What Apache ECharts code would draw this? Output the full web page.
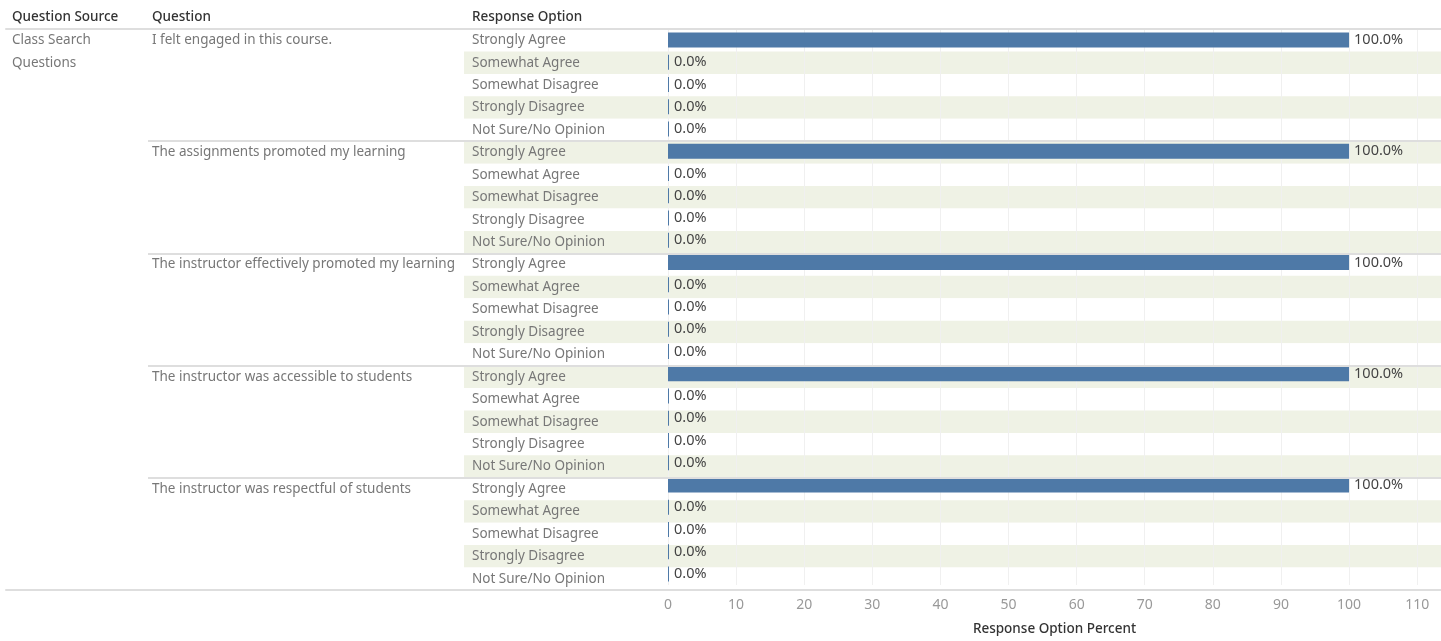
<!DOCTYPE html>
<html>
<head>
<meta charset="utf-8">
<script src="https://cdn.jsdelivr.net/npm/echarts@6/dist/echarts.min.js"></script>
<style>
  html, body { margin: 0; padding: 0; background: #fff; }
  #chart { width: 1441px; height: 641px; }
</style>
</head>
<body>
<div id="chart"></div>
<script>
'use strict';

// data
var sourceLines = ['Class Search', 'Questions'];
var questions = [
    'I felt engaged in this course.',
    'The assignments promoted my learning',
    'The instructor effectively promoted my learning',
    'The instructor was accessible to students',
    'The instructor was respectful of students'
];
var options = ['Strongly Agree', 'Somewhat Agree', 'Somewhat Disagree', 'Strongly Disagree', 'Not Sure/No Opinion'];
var percents = [
    [100, 0, 0, 0, 0],
    [100, 0, 0, 0, 0],
    [100, 0, 0, 0, 0],
    [100, 0, 0, 0, 0],
    [100, 0, 0, 0, 0]
];
var xTicks = [0, 10, 20, 30, 40, 50, 60, 70, 80, 90, 100, 110];

var FONT = 'Noto Sans';
var LABEL_SIZE = 13.5;
var rows = [];
var values = [];
questions.forEach(function (q, qi) {
    options.forEach(function (o, oi) {
        rows.push(qi + '|' + o);
        values.push(percents[qi][oi]);
    });
});

var TOP = 29, BOTTOM = 51;
var lineColor = '#dedede';

function hiddenX(grid) {
    return {gridIndex: grid, type: 'value', min: 0, max: 1, show: false};
}

function header(x, text) {
    return {type: 'text', left: x, top: 10,
        style: {text: text, font: '500 13.5px "Noto Sans"', fill: '#333'}};
}

var chart = echarts.init(document.getElementById('chart'));

var option = {
    animation: false,
    textStyle: {fontFamily: FONT},
    grid: [
        {left: 6, right: 0, top: TOP, bottom: BOTTOM},     // frame lines
        {left: 148, right: 0, top: TOP, bottom: BOTTOM},   // question column + separators
        {left: 464, right: 0, top: TOP, bottom: BOTTOM},   // banding + option labels
        {left: 668, right: 0, top: TOP, bottom: BOTTOM}    // bars
    ],
    graphic: [
        header(12, 'Question Source'),
        header(152, 'Question'),
        header(472, 'Response Option')
    ],
    xAxis: [
        {gridIndex: 0, type: 'value', min: 0, max: 1, position: 'top', z: 3,
            axisLine: {show: true, lineStyle: {color: lineColor, width: 2}},
            axisTick: {show: false}, axisLabel: {show: false}, splitLine: {show: false}},
        {gridIndex: 0, type: 'value', min: 0, max: 1, position: 'bottom', z: 3,
            axisLine: {show: true, lineStyle: {color: lineColor, width: 2}},
            axisTick: {show: false}, axisLabel: {show: false}, splitLine: {show: false}},
        hiddenX(1),
        hiddenX(2),
        {
            gridIndex: 3, type: 'value', min: 0, max: 113.5, interval: 10, z: 1,
            name: 'Response Option Percent', nameLocation: 'middle', nameGap: 37,
            nameTextStyle: {color: '#333', fontSize: 13.5, fontFamily: FONT, fontWeight: 500},
            axisLine: {show: false}, axisTick: {show: false},
            axisLabel: {
                color: '#999', fontSize: 14, margin: 13, showMaxLabel: false,
                formatter: function (v) { return xTicks.indexOf(v) >= 0 ? String(v) : ''; }
            },
            splitLine: {show: true, lineStyle: {color: '#f0f0f0', width: 1}}
        }
    ],
    yAxis: [
        {   // question source
            gridIndex: 0, type: 'category', data: rows, inverse: true,
            axisLine: {show: false}, axisTick: {show: false},
            axisLabel: {
                align: 'left', margin: -6, color: '#777', fontSize: LABEL_SIZE, interval: 0,
                formatter: function (v, i) { return sourceLines[i] || ''; }
            }
        },
        {   // question labels
            gridIndex: 1, type: 'category', data: rows, inverse: true,
            axisLine: {show: false}, axisTick: {show: false},
            axisLabel: {
                align: 'left', margin: -4, color: '#777', fontSize: LABEL_SIZE, interval: 0,
                formatter: function (v, i) { return i % options.length === 0 ? questions[i / options.length] : ''; }
            }
        },
        {   // group separators
            gridIndex: 1, type: 'category', data: questions, inverse: true, position: 'right', z: 3,
            axisLine: {show: false}, axisTick: {show: false}, axisLabel: {show: false},
            splitLine: {show: true, interval: 0, lineStyle: {color: lineColor, width: 2}}
        },
        {   // banding + response option labels
            gridIndex: 2, type: 'category', data: rows, inverse: true,
            axisLine: {show: false}, axisTick: {show: false},
            axisLabel: {
                align: 'left', margin: -8, color: '#777', fontSize: LABEL_SIZE, interval: 0,
                formatter: function (v, i) { return options[i % options.length]; }
            },
            splitArea: {show: true, interval: 0, areaStyle: {color: ['#ffffff', '#eff2e5']}}
        },
        {   // bars
            gridIndex: 3, type: 'category', data: rows, inverse: true,
            axisLine: {show: false}, axisTick: {show: false}, axisLabel: {show: false}
        }
    ],
    series: [
        {
            type: 'bar',
            xAxisIndex: 4,
            yAxisIndex: 4,
            data: values,
            barWidth: 15,
            barMinHeight: 1,
            itemStyle: {color: '#4e79a7'},
            label: {
                show: true, position: 'right', distance: 5,
                color: '#444', fontSize: 14.5, fontFamily: FONT,
                formatter: function (p) { return p.value.toFixed(1) + '%'; }
            }
        }
    ]
};

chart.setOption(option);
</script>
</body>
</html>
